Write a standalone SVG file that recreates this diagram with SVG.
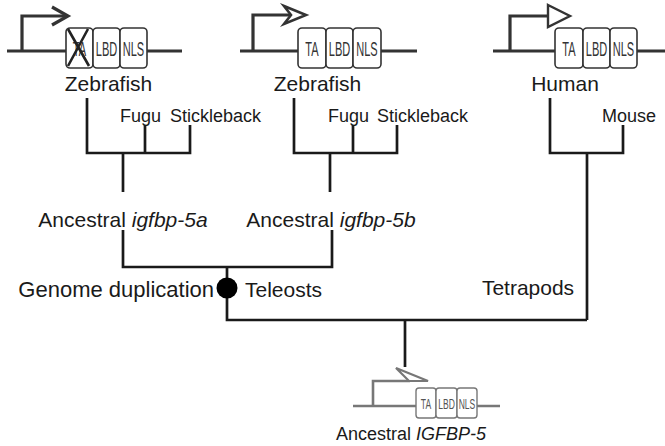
<svg xmlns="http://www.w3.org/2000/svg" width="665" height="446" viewBox="0 0 665 446">
<style>
.t{font-family:"Liberation Sans",Arial,sans-serif;fill:#1a1a1a}
.big{font-size:21px}
.sm{font-size:18px}
.tree{fill:none;stroke:#1a1a1a;stroke-width:2.7;stroke-linejoin:miter}
.gl{fill:none;stroke:#333;stroke-width:3.2}
.box{fill:#fff;stroke:#333;stroke-width:1.6}
.bl{font-family:"Liberation Sans",Arial,sans-serif;font-size:12px;fill:#333;text-anchor:middle}
.ag{fill:none;stroke:#777;stroke-width:2.6}
.abox{fill:#fff;stroke:#777;stroke-width:1.4}
.abl{font-family:"Liberation Sans",Arial,sans-serif;font-size:9px;fill:#555;text-anchor:middle}
</style>

<g id="gene-zebrafish-a">
<path class="gl" d="M7,51 H66 M147,51 H182"/>
<path class="gl" d="M22,51 V16 H67"/>
<path class="gl" d="M52,7 L68,16 L52,25"/>
<rect class="box" x="66" y="28" width="27" height="40" rx="4"/>
<rect class="box" x="93" y="28" width="27" height="40" rx="4"/>
<rect class="box" x="120" y="28" width="27" height="40" rx="4"/>
<text class="bl" transform="translate(79.5,56) scale(0.92,1.65)">TA</text>
<text class="bl" transform="translate(106.5,56) scale(0.92,1.65)">LBD</text>
<text class="bl" transform="translate(133.5,56) scale(0.92,1.65)">NLS</text>
<path d="M68,29 L89,66 M88,29 L68,66" fill="none" stroke="#222" stroke-width="2.6"/>
<text class="t big" x="108.5" y="91" text-anchor="middle">Zebrafish</text>
</g>

<g id="gene-zebrafish-b">
<path class="gl" d="M240,51 H298 M381,51 H417"/>
<path class="gl" d="M253,51 V15 H290"/>
<path d="M284,6 L306,15 L284,24 L291,15 Z" fill="#fff" stroke="#333" stroke-width="2.6" stroke-linejoin="miter"/>
<rect class="box" x="298" y="28" width="28" height="40" rx="4"/>
<rect class="box" x="326" y="28" width="27" height="40" rx="4"/>
<rect class="box" x="353" y="28" width="28" height="40" rx="4"/>
<text class="bl" transform="translate(312,56) scale(0.92,1.65)">TA</text>
<text class="bl" transform="translate(339.5,56) scale(0.92,1.65)">LBD</text>
<text class="bl" transform="translate(367,56) scale(0.92,1.65)">NLS</text>
<text class="t big" x="317.5" y="91" text-anchor="middle">Zebrafish</text>
</g>

<g id="gene-human">
<path class="gl" d="M493,51 H555 M637,51 H665"/>
<path class="gl" d="M510,51 V16 H548"/>
<path d="M548,5 L570,16 L548,27 Z" fill="#fff" stroke="#333" stroke-width="2.4" stroke-linejoin="miter"/>
<rect class="box" x="555" y="28" width="28" height="40" rx="4"/>
<rect class="box" x="583" y="28" width="27" height="40" rx="4"/>
<rect class="box" x="610" y="28" width="27" height="40" rx="4"/>
<text class="bl" transform="translate(569,56) scale(0.92,1.65)">TA</text>
<text class="bl" transform="translate(596.5,56) scale(0.92,1.65)">LBD</text>
<text class="bl" transform="translate(623.5,56) scale(0.92,1.65)">NLS</text>
<text class="t big" x="565" y="91" text-anchor="middle">Human</text>
</g>

<g id="gene-ancestral">
<path class="ag" d="M353,406 H416 M477,406 H500"/>
<path class="ag" d="M373,406 V381 H410"/>
<path d="M396,368 L428,381 L409,381 Z" fill="#fff" stroke="#777" stroke-width="2.2" stroke-linejoin="miter"/>
<rect class="abox" x="416" y="388" width="20" height="30" rx="3"/>
<rect class="abox" x="436" y="388" width="21" height="30" rx="3"/>
<rect class="abox" x="457" y="388" width="20" height="30" rx="3"/>
<text class="abl" transform="translate(426,408.5) scale(0.95,1.55)">TA</text>
<text class="abl" transform="translate(446.5,408.5) scale(0.95,1.55)">LBD</text>
<text class="abl" transform="translate(467,408.5) scale(0.95,1.55)">NLS</text>
<text class="t sm" x="411" y="440" text-anchor="middle">Ancestral <tspan font-style="italic">IGFBP-5</tspan></text>
</g>

<g id="labels">
<text class="t sm" x="120" y="122">Fugu</text>
<text class="t sm" x="170" y="122">Stickleback</text>
<text class="t sm" x="328" y="122">Fugu</text>
<text class="t sm" x="377" y="122">Stickleback</text>
<text class="t sm" x="602" y="122">Mouse</text>
<text class="t big" x="123" y="227" text-anchor="middle">Ancestral <tspan font-style="italic">igfbp-5a</tspan></text>
<text class="t big" x="331" y="227" text-anchor="middle">Ancestral <tspan font-style="italic">igfbp-5b</tspan></text>
<text class="t" x="214" y="297" text-anchor="end" style="font-size:22px">Genome duplication</text>
<text class="t big" x="245" y="297">Teleosts</text>
<text class="t big" x="528" y="295" text-anchor="middle">Tetrapods</text>
</g>

<g id="connectors">
<path class="tree" d="M87,98 V153 H190 V125 M145,125 V153 M123,153 V192"/>
<path class="tree" d="M294,98 V153 H397 V125 M353,125 V153 M330,153 V192"/>
<path class="tree" d="M550,98 V153 H623 V125 M587,153 V320"/>
<path class="tree" d="M123,230 V267 H332 V230 M227,267 V320 H587 M405,320 V367"/>
<circle id="genome-duplication" cx="227" cy="288" r="10.5" fill="#000"/>
</g>
</svg>
